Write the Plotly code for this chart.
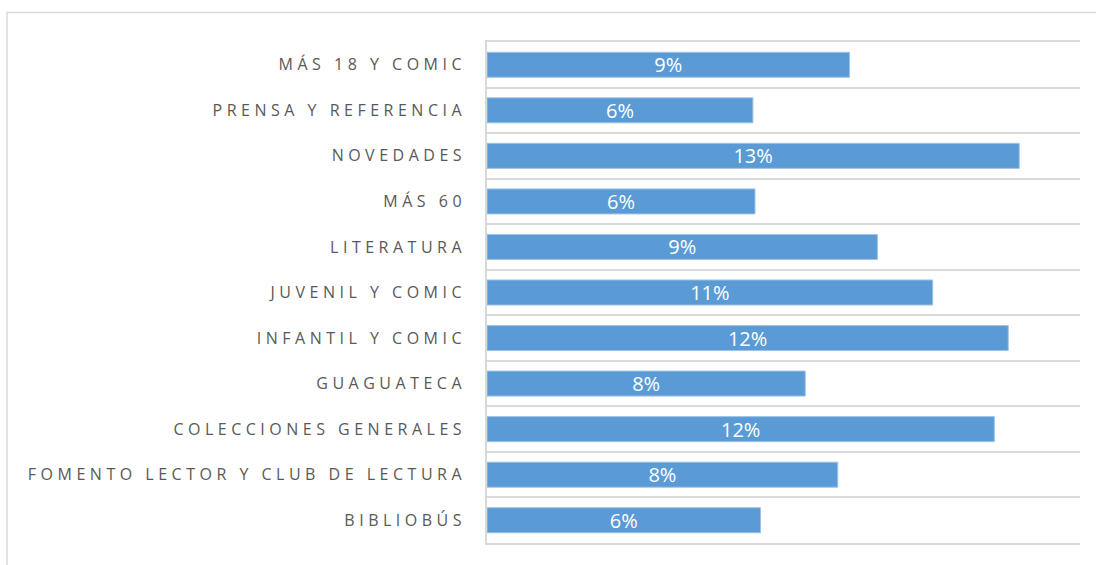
import plotly.graph_objects as go

categories = [
    "MÁS 18 Y COMIC",
    "PRENSA Y REFERENCIA",
    "NOVEDADES",
    "MÁS 60",
    "LITERATURA",
    "JUVENIL Y COMIC",
    "INFANTIL Y COMIC",
    "GUAGUATECA",
    "COLECCIONES GENERALES",
    "FOMENTO LECTOR Y CLUB DE LECTURA",
    "BIBLIOBÚS",
]
values = [0.0859, 0.0630, 0.1261, 0.0635, 0.0925, 0.1056, 0.1235, 0.0754, 0.1202, 0.0831, 0.0648]

W, H = 1096, 565
L, R, T, B = 487, 16, 42, 22
pw, ph = W - L - R, H - T - B

fig = go.Figure(go.Bar(
    y=categories,
    x=values,
    orientation="h",
    marker=dict(color="#5B9BD5", line=dict(color="#9DC3E6", width=1)),
    texttemplate="%{x:.0%}",
    textposition="inside",
    insidetextanchor="middle",
    constraintext="none",
    textfont=dict(family="Open Sans", size=20, color="white"),
    hoverinfo="skip",
))

fig.update_layout(
    width=W, height=H,
    margin=dict(l=L, r=R, t=T, b=B, autoexpand=False),
    paper_bgcolor="white",
    plot_bgcolor="white",
    bargap=0.45,
    showlegend=False,
    xaxis=dict(
        range=[0, 0.1405], visible=True, showticklabels=False, ticks="",
        showgrid=False, zeroline=False,
        showline=True, mirror=True, linecolor="#D9D9D9", linewidth=1.5,
    ),
    yaxis=dict(
        autorange="reversed",
        type="category",
        tickson="boundaries",
        showgrid=True, gridcolor="#D9D9D9", gridwidth=1.5,
        showline=True, linecolor="#D9D9D9", linewidth=1.5,
        ticks="", ticklabelstandoff=16,
        tickfont=dict(family="Open Sans", size=16, color="#595959"),
        automargin=False,
    ),
    shapes=[dict(
        type="rect", xref="paper", yref="paper",
        x0=(7 - L) / pw, x1=(W + 10 - L) / pw,
        y0=-(B + 10) / ph, y1=(ph + T - 12.5) / ph,
        line=dict(color="#D9D9D9", width=1.5), layer="below",
    )],
)

post = (
    "document.body.style.margin='0';"
    "var gd=document.getElementById('{plot_id}');"
    "function ls(){gd.querySelectorAll('.ytick text').forEach(function(t){t.style.letterSpacing='4.5px';});}"
    "ls(); gd.on('plotly_afterplot', ls);"
)
fig.write_html("out.html", post_script=post, config={"displayModeBar": False})
